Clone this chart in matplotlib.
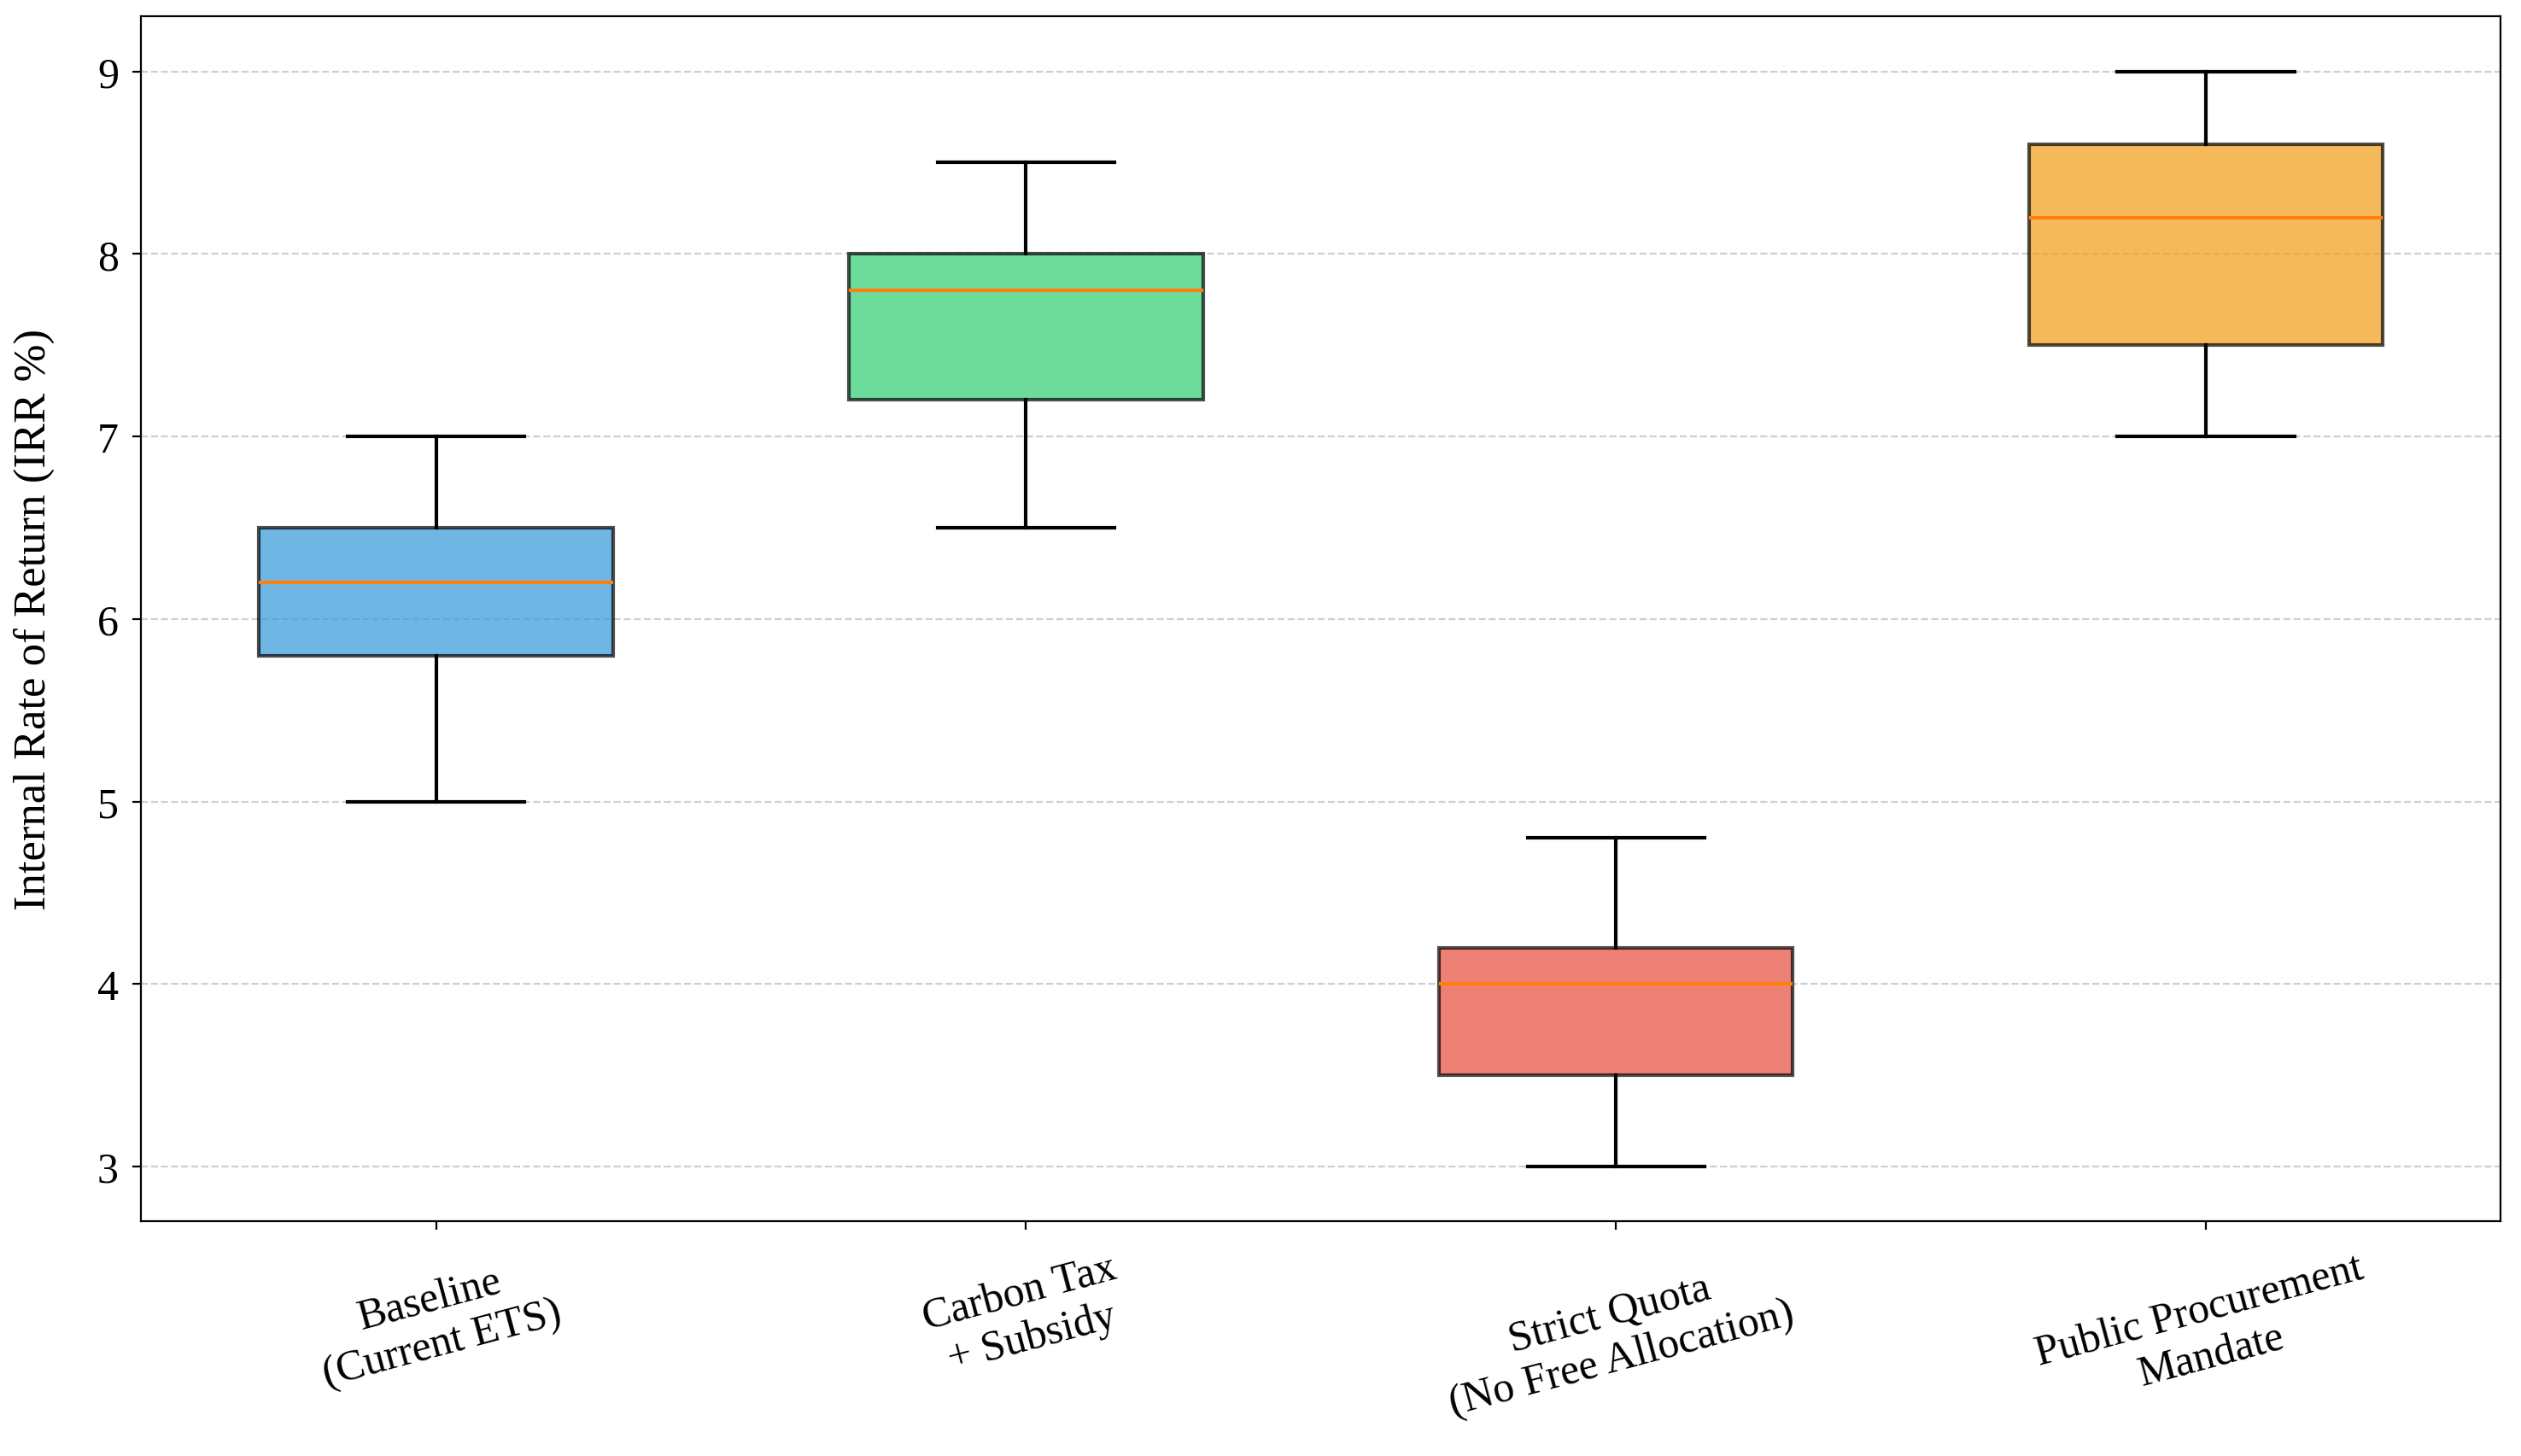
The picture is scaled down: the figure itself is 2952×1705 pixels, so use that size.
import matplotlib.pyplot as plt

plt.rcParams['font.family'] = ['Liberation Serif', 'DejaVu Serif']

scenarios = ['Baseline\n(Current ETS)', 'Carbon Tax\n+ Subsidy',
             'Strict Quota\n(No Free Allocation)', 'Public Procurement\nMandate']
whis_lo = [5.0, 6.5, 3.0, 7.0]
q1 = [5.8, 7.2, 3.5, 7.5]
medians = [6.2, 7.8, 4.0, 8.2]
q3 = [6.5, 8.0, 4.2, 8.6]
whis_hi = [7.0, 8.5, 4.8, 9.0]
colors = ['#3498db', '#2ecc71', '#e74c3c', '#f39c12']

stats = []
for i in range(len(scenarios)):
    stats.append({'whislo': whis_lo[i], 'q1': q1[i], 'med': medians[i],
                  'q3': q3[i], 'whishi': whis_hi[i], 'fliers': []})

fig, ax = plt.subplots(figsize=(14.76, 8.53), dpi=200)
bp = ax.bxp(stats, patch_artist=True, widths=0.6,
            whiskerprops=dict(color='black', linewidth=1.5),
            capprops=dict(color='black', linewidth=1.5),
            medianprops=dict(color='#ff7f0e', linewidth=1.5),
            boxprops=dict(linewidth=1.5))
for patch, c in zip(bp['boxes'], colors):
    patch.set_facecolor(c)
    patch.set_edgecolor('black')
    patch.set_alpha(0.7)

ax.set_xticks(range(1, len(scenarios) + 1))
ax.set_xticklabels(scenarios, rotation=15, fontsize=18)
ax.tick_params(axis='y', labelsize=18, pad=6)
ax.tick_params(axis='x', pad=8)
ax.set_ylabel('Internal Rate of Return (IRR %)', fontsize=19, labelpad=18)
ax.yaxis.grid(True, linestyle='--', alpha=0.6)

plt.subplots_adjust(left=0.056, right=0.992, top=0.988, bottom=0.161)
plt.savefig('out.png')
